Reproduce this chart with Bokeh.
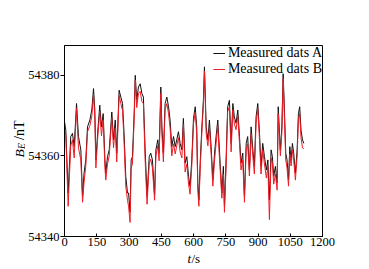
import math
from bokeh.plotting import figure
from bokeh.layouts import column, row
from bokeh.models import Range1d, FixedTicker, Label, Legend, LegendItem
from bokeh.embed import file_html
from bokeh.resources import INLINE

# time in seconds
t = [0, 6, 17, 29, 37, 45, 56, 65, 76, 84, 91, 99, 107, 118, 127, 135, 141, 146, 154, 164,
     172, 180, 188, 192, 200, 208, 220, 228, 236, 243, 254, 262, 270, 277, 285, 293, 298, 305, 310, 316,
     324, 329, 336, 344, 352, 360, 367, 375, 384, 394, 401, 409, 419, 425, 434, 440, 448, 453, 460, 468,
     476, 484, 491, 499, 507, 515, 522, 530, 538, 546, 553, 561, 569, 577, 584, 592, 600, 608, 615, 620,
     625, 631, 639, 646, 651, 659, 667, 674, 682, 690, 698, 705, 713, 718, 724, 732, 739, 744, 752, 759,
     767, 775, 783, 790, 798, 806, 814, 821, 829, 837, 845, 852, 860, 868, 876, 883, 891, 899, 907, 914,
     922, 930, 939, 946, 953, 961, 967, 973, 981, 989, 994, 1000, 1004, 1011, 1017, 1023, 1029, 1035, 1042, 1048,
     1054, 1060, 1066, 1074, 1082, 1088, 1094, 1100, 1107, 1113]

# Measured dats A (nT)
data_a = [54368.5, 54366.4, 54350.8, 54364.8, 54365.6, 54362.3, 54373.0, 54364.8, 54361.5, 54350.0,
          54355.7, 54359.0, 54367.2, 54368.9, 54371.4, 54376.7, 54371.4, 54359.0, 54365.6, 54372.6,
          54367.2, 54370.5, 54359.0, 54355.7, 54359.8, 54361.5, 54370.9, 54364.0, 54368.9, 54360.7,
          54376.3, 54374.6, 54373.0, 54365.6, 54354.9, 54350.8, 54350.8, 54346.0, 54359.0, 54359.8,
          54370.5, 54380.0, 54373.8, 54377.1, 54377.9, 54375.5, 54374.6, 54361.5, 54350.0, 54359.8,
          54360.7, 54359.0, 54350.4, 54361.5, 54364.0, 54360.7, 54377.1, 54367.2, 54360.7, 54373.0,
          54374.6, 54372.2, 54368.9, 54362.3, 54364.8, 54362.3, 54364.0, 54366.0, 54363.1, 54361.5,
          54369.3, 54358.2, 54359.8, 54354.9, 54352.4, 54359.0, 54369.3, 54372.2, 54367.2, 54353.3,
          54349.1, 54358.2, 54367.2, 54373.8, 54382.1, 54367.2, 54364.0, 54368.9, 54362.3, 54354.1,
          54360.7, 54364.8, 54368.9, 54364.0, 54358.2, 54350.8, 54357.4, 54347.5, 54359.8, 54372.2,
          54373.8, 54363.1, 54373.0, 54369.7, 54368.1, 54371.4, 54364.8, 54358.2, 54360.7, 54350.0,
          54363.1, 54364.8, 54356.5, 54367.2, 54361.5, 54357.4, 54369.7, 54373.0, 54365.6, 54357.4,
          54363.1, 54359.8, 54356.5, 54359.0, 54349.1, 54361.5, 54359.8, 54354.9, 54357.4, 54353.3,
          54372.2, 54365.6, 54361.5, 54367.2, 54380.4, 54371.4, 54360.7, 54359.0, 54354.1, 54362.3,
          54359.0, 54363.1, 54360.7, 54355.7, 54361.5, 54370.5, 54372.2, 54366.4, 54364.0, 54363.1]

# Measured dats B (nT)
data_b = [54367.0, 54365.2, 54347.5, 54362.5, 54364.0, 54359.5, 54371.8, 54362.0, 54359.0, 54348.5,
          54353.5, 54357.5, 54366.0, 54367.5, 54369.8, 54375.2, 54369.5, 54357.0, 54364.2, 54371.0,
          54365.0, 54369.0, 54357.2, 54354.0, 54358.0, 54360.0, 54369.5, 54362.0, 54367.0, 54358.5,
          54375.0, 54373.0, 54371.2, 54363.5, 54352.5, 54349.0, 54347.5, 54343.5, 54357.0, 54358.0,
          54369.0, 54378.8, 54372.0, 54375.5, 54376.0, 54373.5, 54373.0, 54359.0, 54348.0, 54358.0,
          54359.2, 54357.0, 54349.0, 54360.0, 54362.5, 54358.8, 54375.5, 54365.5, 54358.5, 54371.5,
          54373.0, 54370.5, 54367.0, 54360.0, 54363.0, 54360.5, 54362.5, 54364.5, 54361.0, 54359.5,
          54367.8, 54356.0, 54358.0, 54353.0, 54350.5, 54357.5, 54368.0, 54370.8, 54365.5, 54351.5,
          54347.5, 54356.5, 54366.0, 54372.5, 54381.0, 54365.5, 54362.5, 54367.0, 54360.5, 54352.5,
          54359.0, 54363.0, 54367.5, 54362.0, 54356.5, 54349.5, 54355.5, 54346.0, 54358.0, 54371.0,
          54372.2, 54361.0, 54371.5, 54368.0, 54366.5, 54370.0, 54363.0, 54356.5, 54359.0, 54348.5,
          54361.5, 54363.0, 54355.0, 54365.5, 54360.0, 54355.5, 54368.0, 54371.8, 54364.0, 54355.5,
          54361.5, 54358.0, 54354.5, 54357.5, 54344.2, 54359.5, 54358.0, 54353.0, 54355.5, 54351.5,
          54370.5, 54364.0, 54360.0, 54365.8, 54379.2, 54369.5, 54359.0, 54357.0, 54352.5, 54360.5,
          54357.5, 54361.5, 54359.0, 54354.0, 54360.0, 54369.0, 54370.5, 54364.5, 54362.0, 54361.8]

x_ticks = [0, 150, 300, 450, 600, 750, 900, 1050, 1200]
y_ticks = [54340, 54360, 54380]
series_names = ["Measured dats A", "Measured dats B"]

FONT = "Liberation Serif"


def blank(width, height, top=0, bottom=0):
    f = figure(width=width, height=height, output_backend="svg", toolbar_location=None,
               title=None, x_range=Range1d(0, 1), y_range=Range1d(0, 1),
               x_axis_location=None, y_axis_location=None,
               min_border_left=0, min_border_right=0,
               min_border_top=top, min_border_bottom=bottom)
    f.grid.visible = False
    f.outline_line_color = None
    f.background_fill_color = "white"
    f.border_fill_color = "white"
    return f


# ---- main plot ----
p = figure(width=341, height=253, output_backend="svg", toolbar_location=None, title=None,
           x_range=Range1d(0, 1200), y_range=Range1d(54340, 54387.4),
           min_border_left=39, min_border_right=44, min_border_top=45, min_border_bottom=17)
p.background_fill_color = "white"
p.border_fill_color = "white"
p.outline_line_color = "black"
p.outline_line_width = 1
p.grid.visible = False

for ax in (p.xaxis[0], p.yaxis[0]):
    ax.axis_line_color = "black"
    ax.major_tick_line_color = "black"
    ax.minor_tick_line_color = None
    ax.major_label_text_font = FONT
    ax.major_label_text_font_size = "12.5px"
    ax.major_label_text_color = "black"

p.xaxis.ticker = FixedTicker(ticks=x_ticks)
p.yaxis.ticker = FixedTicker(ticks=y_ticks)
p.xaxis.major_tick_in = 3
p.xaxis.major_tick_out = 0
p.xaxis.major_label_standoff = 1
p.yaxis.major_tick_in = 0
p.yaxis.major_tick_out = 4
p.yaxis.major_label_standoff = 1

ra = p.line(t, data_a, line_color="#111111", line_width=1)
rb = p.line(t, data_b, line_color="#ee1c24", line_width=1)

legend = Legend(items=[LegendItem(label=series_names[0], renderers=[ra]),
                       LegendItem(label=series_names[1], renderers=[rb])],
                location="top_right")
legend.border_line_color = None
legend.background_fill_alpha = 0
legend.margin = 0
legend.padding = 0
legend.spacing = 0
legend.label_height = 14
legend.glyph_height = 14
legend.glyph_width = 12
legend.label_standoff = 3
legend.label_text_font = FONT
legend.label_text_font_size = "14px"
legend.label_text_line_height = 1.0
legend.label_text_color = "black"
p.add_layout(legend)

# ---- y axis title: B_E/nT  (frame of this strip spans page y 45..236) ----
ylab = blank(25, 253, top=45, bottom=17)
a90 = math.pi / 2
ylab.add_layout(Label(x=18.5, y=79, x_units="screen", y_units="screen", text="B", angle=a90,
                      text_font=FONT, text_font_style="italic", text_font_size="13.5px",
                      text_color="black", text_align="left", text_baseline="middle"))
ylab.add_layout(Label(x=21.5, y=87.5, x_units="screen", y_units="screen", text="E", angle=a90,
                      text_font=FONT, text_font_style="italic", text_font_size="9.5px",
                      text_color="black", text_align="left", text_baseline="middle"))
ylab.add_layout(Label(x=18.5, y=96.5, x_units="screen", y_units="screen", text="/nT", angle=a90,
                      text_font=FONT, text_font_size="14px",
                      text_color="black", text_align="left", text_baseline="middle"))

# ---- x axis title: t/s ----
xlab = blank(366, 15)
xlab.add_layout(Label(x=187, y=10.5, x_units="screen", y_units="screen", text="t",
                      text_font=FONT, text_font_style="italic", text_font_size="13px",
                      text_color="black", text_align="left", text_baseline="middle"))
xlab.add_layout(Label(x=191, y=10.5, x_units="screen", y_units="screen", text="/s",
                      text_font=FONT, text_font_size="13px",
                      text_color="black", text_align="left", text_baseline="middle"))

layout = column(row(ylab, p, spacing=0), xlab, spacing=0)

open("out.html", "w").write(file_html(layout, INLINE))
